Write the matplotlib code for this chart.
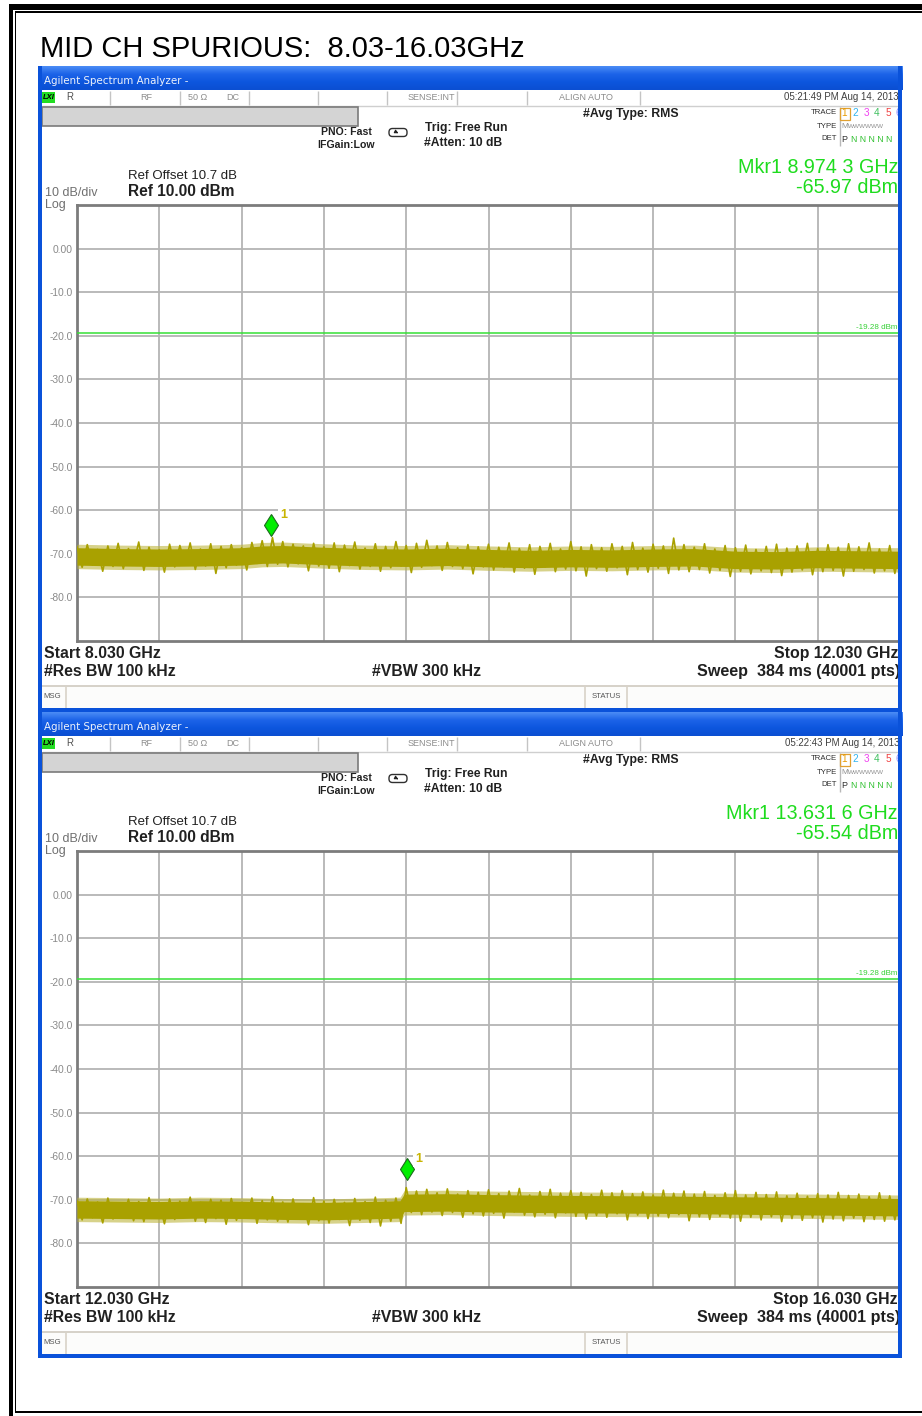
import numpy as np
import matplotlib
matplotlib.use("Agg")
import matplotlib.pyplot as plt
from matplotlib.patches import Rectangle, FancyBboxPatch, FancyArrowPatch
from matplotlib.transforms import offset_copy
from matplotlib.colors import to_rgb

W, H, DPI = 922, 1416, 100
plt.rcParams["font.family"] = ["Liberation Sans", "DejaVu Sans"]

page_title = "MID CH SPURIOUS:  8.03-16.03GHz"

# ---- sweep settings of the two screens ----
start_ghz = [8.030, 12.030]
stop_ghz = [12.030, 16.030]
timestamps = ["05:21:49 PM Aug 14, 2013", "05:22:43 PM Aug 14, 2013"]
marker_ghz = [8.9743, 13.6316]
marker_dbm = [-65.97, -65.54]
marker_freq_text = ["8.974 3 GHz", "13.631 6 GHz"]
limit_dbm = -19.28
ref_level_dbm = 10.0
db_per_div = 10
ytick_values = [0, -10, -20, -30, -40, -50, -60, -70, -80]
ytick_labels = ["0.00", "-10.0", "-20.0", "-30.0", "-40.0", "-50.0", "-60.0", "-70.0", "-80.0"]

# ---- noise floor (average level along the sweep) ----
top_floor_ghz = [8.03, 8.23, 8.43, 8.63, 8.83, 8.93, 9.03, 9.23, 9.43, 9.63, 9.83,
                 10.03, 10.23, 10.43, 10.63, 10.83, 11.03, 11.23, 11.43, 11.63, 11.83, 12.03]
top_floor_dbm = [-70.6, -70.8, -70.9, -70.8, -70.6, -70.2, -70.1, -70.5, -70.8, -70.9, -70.7,
                 -71.0, -71.2, -71.0, -71.1, -70.9, -70.8, -71.4, -71.5, -71.2, -71.3, -71.4]
bot_floor_ghz = [12.03, 12.23, 12.43, 12.63, 12.83, 13.03, 13.23, 13.43, 13.60, 13.62,
                 13.83, 14.03, 14.43, 14.83, 15.23, 15.63, 16.03]
bot_floor_dbm = [-72.2, -72.3, -72.4, -72.2, -72.3, -72.5, -72.6, -72.4, -72.2, -70.7,
                 -70.6, -70.8, -71.0, -71.1, -71.3, -71.5, -71.7]

# ---- trace peaks/troughs, 161 display buckets per sweep ----
top_trace_dbm = [
    -68.4, -73.1, -67.9, -72.6, -69.0, -74.0, -68.2, -72.9, -67.6, -73.4,
    -68.8, -72.4, -67.3, -73.8, -68.5, -72.7, -69.1, -74.2, -67.8, -73.0,
    -68.1, -72.5, -67.5, -73.6, -68.9, -72.8, -67.7, -74.5, -68.3, -73.2,
    -67.9, -72.6, -68.6, -73.7, -67.4, -72.2, -67.0, -72.9, -66.3, -72.4,
    -67.2, -73.0, -67.8, -72.3, -68.2, -73.9, -67.6, -72.8, -68.4, -73.3,
    -67.5, -74.1, -68.0, -72.7, -67.3, -73.5, -68.7, -72.9, -67.7, -74.0,
    -68.3, -73.2, -67.2, -72.8, -68.1, -74.3, -67.6, -73.1, -66.9, -72.7,
    -68.2, -73.8, -67.4, -72.9, -68.6, -73.4, -67.9, -74.6, -68.4, -73.0,
    -67.8, -73.7, -68.5, -73.1, -67.5, -74.2, -68.8, -73.3, -67.9, -74.7,
    -68.3, -73.0, -67.6, -74.1, -68.9, -73.5, -67.2, -73.9, -68.4, -75.1,
    -67.9, -73.4, -68.6, -74.0, -67.7, -73.2, -68.3, -74.8, -67.4, -73.6,
    -68.7, -74.2, -67.8, -73.3, -68.2, -74.5, -66.4, -73.7, -67.9, -74.1,
    -68.5, -73.6, -67.7, -74.4, -68.9, -73.8, -68.1, -75.2, -68.6, -74.0,
    -68.0, -74.6, -69.0, -73.9, -68.3, -74.3, -67.8, -75.0, -68.7, -74.2,
    -68.2, -73.7, -67.6, -74.8, -68.8, -74.1, -67.9, -73.8, -68.5, -75.1,
    -67.7, -74.0, -68.4, -73.6, -67.5, -74.4, -68.9, -73.9, -68.1, -74.5,
    -68.6]
bot_trace_dbm = [
    -70.2, -74.6, -69.8, -74.1, -70.5, -75.3, -69.6, -74.4, -70.9, -73.9,
    -69.9, -74.8, -70.4, -75.0, -69.5, -74.2, -70.7, -75.5, -69.8, -74.5,
    -70.3, -73.9, -69.4, -74.9, -70.6, -75.2, -69.9, -74.3, -70.1, -75.6,
    -69.7, -74.7, -70.8, -74.0, -69.6, -75.4, -70.2, -74.6, -69.3, -74.9,
    -70.5, -75.1, -69.8, -74.4, -70.9, -75.7, -69.5, -74.8, -70.3, -75.3,
    -69.9, -74.5, -70.6, -75.9, -69.7, -74.7, -70.4, -75.2, -69.4, -76.0,
    -70.1, -74.9, -69.6, -75.4, -67.2, -72.9, -68.0, -73.4, -67.6, -72.8,
    -68.4, -73.6, -67.5, -72.9, -68.7, -74.0, -67.9, -73.2, -68.3, -73.7,
    -67.7, -73.1, -68.6, -74.2, -68.0, -72.8, -67.4, -73.5, -68.9, -73.9,
    -68.1, -73.3, -67.6, -74.1, -68.5, -73.0, -67.9, -73.8, -68.3, -74.4,
    -68.8, -73.6, -67.8, -74.0, -68.4, -73.2, -67.9, -74.6, -68.6, -73.5,
    -68.2, -74.3, -68.9, -73.7, -67.8, -74.1, -68.5, -73.4, -68.0, -74.8,
    -68.7, -73.9, -68.1, -74.5, -69.0, -73.8, -68.4, -74.2, -67.9, -74.9,
    -68.9, -74.0, -68.3, -74.6, -68.8, -73.9, -68.2, -75.0, -69.1, -74.3,
    -68.5, -74.7, -69.2, -74.1, -68.6, -75.1, -68.9, -74.4, -68.3, -74.8,
    -69.0, -74.2, -68.7, -75.0, -69.3, -74.5, -68.4, -74.9, -69.1, -74.6,
    -68.8]

floors = [(top_floor_ghz, top_floor_dbm), (bot_floor_ghz, bot_floor_dbm)]
traces = [top_trace_dbm, bot_trace_dbm]

NOISE_CORE_DB = 2.0
NOISE_FRINGE_DB = 2.8

TRACE_COLOR = "#a9a100"
FRINGE_COLOR = "#bdb53c"
MKR_GREEN = "#1edc1e"
XP_BLUE = "#0a52da"
PANEL_STEP = 646

fig = plt.figure(figsize=(W / DPI, H / DPI), dpi=DPI)
fig.patch.set_facecolor("white")


def overlay(z, name):
    a = fig.add_axes([0, 0, 1, 1], zorder=z, label=name)
    a.set_xlim(0, W)
    a.set_ylim(H, 0)
    a.axis("off")
    a.patch.set_alpha(0)
    return a


bg = overlay(0, "bg")
fg = overlay(3, "fg")


def px_rect(x0, y0, x1, y1):
    return [x0 / W, 1 - y1 / H, (x1 - x0) / W, (y1 - y0) / H]


def txt(x, y, s, size=8, color="#202020", weight="normal", ha="left", va="center", **kw):
    bg.text(x, y, s, fontsize=size, color=color, fontweight=weight, ha=ha, va=va,
            zorder=5, **kw)


def hline(x0, x1, y, color, lw=1.0, ax=None, z=3):
    (ax or bg).plot([x0, x1], [y, y], color=color, lw=lw, solid_capstyle="butt", zorder=z)


def vline(x, y0, y1, color, lw=1.0, ax=None, z=3):
    (ax or bg).plot([x, x], [y0, y1], color=color, lw=lw, solid_capstyle="butt", zorder=z)


# page title
txt(40, 57, page_title, size=21, color="black", va="baseline")

# title-bar gradient
stops = [to_rgb("#4a8bf5"), to_rgb("#1c63e8"), to_rgb("#0d56de"), to_rgb("#0b4fd2")]
rows = []
for i in range(24):
    t = i / 23 * (len(stops) - 1)
    k = min(int(t), len(stops) - 2)
    f = t - k
    rows.append([(1 - f) * stops[k][c] + f * stops[k + 1][c] for c in range(3)])
grad = np.array(rows)[:, None, :]

for p in range(2):
    y0 = p * PANEL_STEP
    start, stop = start_ghz[p], stop_ghz[p]

    # window body
    bg.add_patch(Rectangle((38, y0 + 66), 864, 645, fc="white", ec="none", zorder=1))
    bg.imshow(grad, extent=(38, 902, y0 + 90, y0 + 66), aspect="auto", zorder=2,
              interpolation="bilinear")
    txt(44, y0 + 80.5, "Agilent Spectrum Analyzer -", size=7.4, color="#eef2fb",
        family="DejaVu Sans")

    # status row
    hline(42, 898, y0 + 105.5, "#cfcfcf", 1.0)
    for sx in [110, 180, 249, 318, 387, 457, 527, 640]:
        vline(sx, y0 + 91, y0 + 105, "#c4c4c4", 1.0)
    bg.add_patch(Rectangle((42, y0 + 92), 13, 11, fc="#22dd22", ec="none", zorder=3))
    txt(48.5, y0 + 97.5, "LXI", size=5.5, color="black", weight="bold", ha="center",
        style="italic")
    txt(66, y0 + 97.5, "R", size=7, color="#505050")
    txt(146, y0 + 97.5, "RF", size=6.5, color="#8c8c8c", ha="center")
    txt(188, y0 + 97.5, "50 \u03a9", size=6.5, color="#8c8c8c")
    txt(226, y0 + 97.5, "DC", size=6.5, color="#8c8c8c")
    txt(455, y0 + 97.5, "SENSE:INT", size=6.5, color="#8c8c8c", ha="right")
    txt(586, y0 + 97.5, "ALIGN AUTO", size=6.5, color="#8c8c8c", ha="center")
    txt(899, y0 + 97.5, timestamps[p], size=7, color="#404040", ha="right")

    # grey progress bar
    bg.add_patch(Rectangle((42, y0 + 107), 316, 19, fc="#d4d4d4", ec="#7a7a7a",
                           lw=1.2, zorder=3))

    # acquisition settings
    txt(372, y0 + 132, "PNO: Fast", size=7.6, weight="bold", ha="right")
    txt(375, y0 + 145, "IFGain:Low", size=7.6, weight="bold", ha="right")
    bg.add_patch(FancyBboxPatch((389, y0 + 128.5), 18, 8,
                                boxstyle="round,pad=0,rounding_size=3.5",
                                fc="white", ec="#303030", lw=1.0, zorder=3))
    bg.add_patch(FancyArrowPatch((394, y0 + 131), (401, y0 + 134.5), arrowstyle="-|>",
                                 mutation_scale=5, color="#202020", lw=0.8, zorder=4))
    txt(425, y0 + 128, "Trig: Free Run", size=8.7, weight="bold")
    txt(424, y0 + 143, "#Atten: 10 dB", size=8.7, weight="bold")
    txt(583, y0 + 114, "#Avg Type: RMS", size=8.8, weight="bold")

    # trace table
    txt(837, y0 + 113, "TRACE", size=5.6, color="#303030", ha="right")
    txt(837, y0 + 126, "TYPE", size=5.6, color="#303030", ha="right")
    txt(837, y0 + 139, "DET", size=5.6, color="#303030", ha="right")
    vline(839.5, y0 + 107, y0 + 146, "#b8b8b8", 1.0)
    bg.add_patch(Rectangle((840, y0 + 107.5), 9.5, 12, fc="none", ec="#e0a030",
                           lw=0.9, zorder=3))
    for num, cx, col in zip("123456", [844.5, 855, 866, 877, 888, 898.5],
                            ["#e89a00", "#30b4f0", "#f040f0", "#40c060", "#f04040", "#8c8cff"]):
        txt(cx, y0 + 113.5, num, size=7.2, color=col, ha="center")
    txt(841, y0 + 126.5, "M", size=6, color="#909090")
    txt(848, y0 + 126.5, "WWWWWW", size=4.6, color="#909090")
    txt(841, y0 + 139.5, "P", size=6.5, color="#303030")
    txt(851, y0 + 139.5, "N N N N N", size=6.3, color="#30c030")

    # marker readout
    txt(898, y0 + 173, f"Mkr1 {marker_freq_text[p]}", size=14.2, color=MKR_GREEN,
        ha="right", va="baseline")
    txt(898, y0 + 193, f"{marker_dbm[p]:.2f} dBm", size=14.2, color=MKR_GREEN,
        ha="right", va="baseline")

    # reference level block
    txt(128, y0 + 176, "Ref Offset 10.7 dB", size=9.5)
    txt(128, y0 + 196, f"Ref {ref_level_dbm:.2f} dBm", size=11.2, weight="bold",
        va="baseline")
    txt(45, y0 + 196, f"{db_per_div} dB/div", size=9, color="#707070", va="baseline")
    txt(45, y0 + 208, "Log", size=9, color="#707070", va="baseline")

    # sweep annotations
    txt(44, y0 + 658, f"Start {start:.3f} GHz", size=11.4, weight="bold", va="baseline")
    txt(44, y0 + 676, "#Res BW 100 kHz", size=11.4, weight="bold", va="baseline")
    txt(372, y0 + 676, "#VBW 300 kHz", size=11.4, weight="bold", va="baseline")
    txt(898, y0 + 658, f"Stop {stop:.3f} GHz", size=11.4, weight="bold", ha="right",
        va="baseline")
    txt(900, y0 + 676, "Sweep  384 ms (40001 pts)", size=11.6, weight="bold",
        ha="right", va="baseline")

    # message / status row
    bg.add_patch(Rectangle((42, y0 + 686), 856, 22, fc="#fcfcfb", ec="none", zorder=2))
    hline(42, 898, y0 + 686, "#cfcac0", 1.2)
    vline(66, y0 + 686, y0 + 708, "#d8d2c8", 1.2)
    vline(585, y0 + 686, y0 + 708, "#d8d2c8", 1.2)
    vline(627, y0 + 686, y0 + 708, "#d8d2c8", 1.2)
    txt(43, y0 + 697, "MSG", size=5.6, color="#555555")
    txt(606, y0 + 697, "STATUS", size=5.6, color="#555555", ha="center")

    # ---- spectrum display ----
    ax = fig.add_axes(px_rect(77, y0 + 205, 900, y0 + 641), zorder=1, label=f"trace{p}")
    ax.set_xlim(start, stop)
    ax.set_ylim(ref_level_dbm - 10 * db_per_div, ref_level_dbm)
    ax.set_xticks(np.linspace(start, stop, 11)[1:-1])
    ax.set_yticks(ytick_values, labels=ytick_labels)
    ax.tick_params(length=0, labelbottom=False, pad=3.2, labelsize=7.4,
                   labelcolor="#8a8a8a")
    ax.grid(True, color="#b4b4b4", lw=1.3)
    ax.set_axisbelow(True)
    for s in ax.spines.values():
        s.set_color("#7c7c7c")
        s.set_linewidth(2.0)

    # trace: fuzzy fringe, peak/trough line, dense core
    ff, fd = np.array(floors[p][0]), np.array(floors[p][1])
    ax.fill_between(ff, fd - NOISE_FRINGE_DB, fd + NOISE_FRINGE_DB,
                    color=FRINGE_COLOR, alpha=0.6, lw=0, zorder=3)
    sweep_ghz = np.linspace(start, stop, len(traces[p]))
    ax.plot(sweep_ghz, traces[p], color=TRACE_COLOR, lw=1.2, zorder=3.5)
    ax.fill_between(ff, fd - NOISE_CORE_DB, fd + NOISE_CORE_DB,
                    color=TRACE_COLOR, lw=0, zorder=4)

    ax.axhline(limit_dbm, color="#35e035", lw=1.1, zorder=5)
    ax.annotate(f"{limit_dbm:.2f} dBm", xy=(1, limit_dbm), xycoords=("axes fraction", "data"),
                xytext=(-3, 1.5), textcoords="offset pixels", ha="right", va="bottom",
                fontsize=5.8, color="#35d035", zorder=6)

    lift = offset_copy(ax.transData, fig=fig, x=0, y=11.5, units="dots")
    ax.plot([marker_ghz[p]], [marker_dbm[p]], marker="d", ms=11.5, mfc="#00ee00",
            mec="#1c6a1c", mew=0.8, ls="none", transform=lift, zorder=7, clip_on=False)
    ax.annotate("1", xy=(marker_ghz[p], marker_dbm[p]), xytext=(9, 21),
                textcoords="offset pixels", ha="left", va="center", fontsize=9,
                fontweight="bold", color="#c8b400", zorder=7,
                bbox=dict(fc="white", ec="none", pad=1.5))

    # window frame
    fg.add_patch(Rectangle((38, y0 + 66), 4, 645, fc=XP_BLUE, ec="none", zorder=4))
    fg.add_patch(Rectangle((898, y0 + 66), 4, 645, fc=XP_BLUE, ec="none", zorder=4))
    fg.add_patch(Rectangle((38, y0 + 708), 864, 3.5, fc=XP_BLUE, ec="none", zorder=4))

# double black page border
for (x, y, w, h) in [(9, 4, 913, 5.5), (15, 11, 907, 1.6), (8.5, 4, 4.5, 1412),
                     (14.5, 11, 1.6, 1402), (14.5, 1411, 907.5, 2.0)]:
    fg.add_patch(Rectangle((x, y), w, h, fc="black", ec="none", zorder=5))

for a in (bg, fg):
    a.set_xlim(0, W)
    a.set_ylim(H, 0)

fig.savefig("out.png", dpi=DPI, facecolor="white")
